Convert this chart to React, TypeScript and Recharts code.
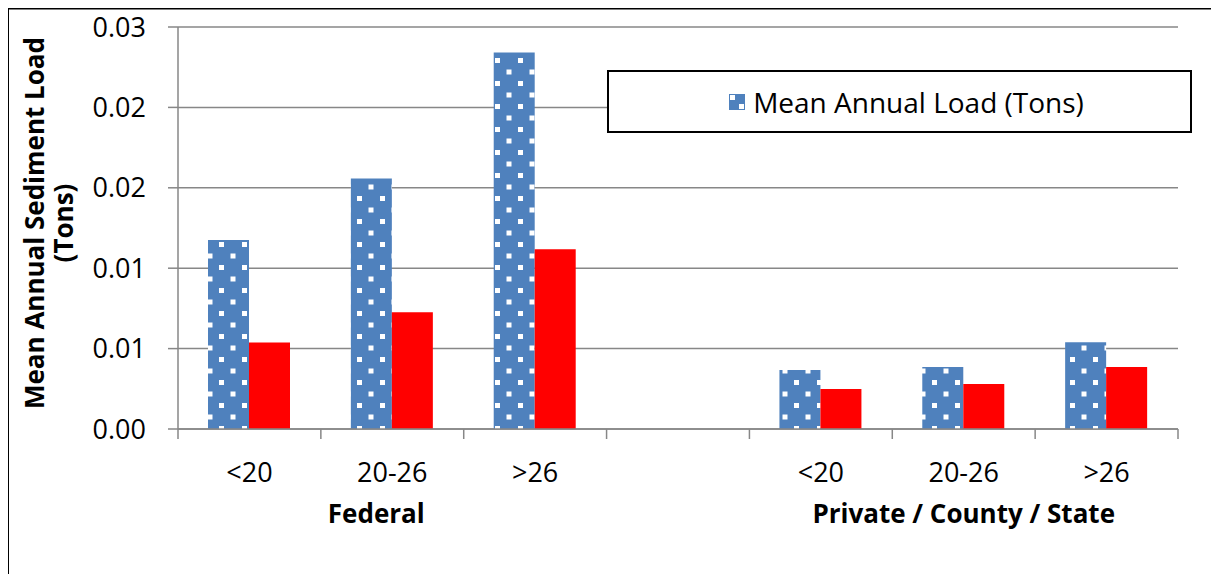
import { Bar, BarChart, CartesianGrid, Legend, XAxis, YAxis } from "recharts";

const bands = ["<20", "20-26", ">26", "", "<20", "20-26", ">26"];
const groupLabels = ["", "Federal", "", "", "", "Private / County / State", ""];
const meanLoad = [0.0141, 0.0187, 0.0281, null, 0.0044, 0.00462, 0.00648];
const secondLoad = [0.00646, 0.00872, 0.01342, null, 0.00298, 0.00335, 0.00462];
const yTicks = [0, 0.006, 0.012, 0.018, 0.024, 0.03];

const rows = bands.map((band, i) => ({
  band,
  group: groupLabels[i],
  mean: meanLoad[i],
  second: secondLoad[i],
}));

const GRID = "#878787";
const BLUE = "#4F81BD";

function LegendBox() {
  return (
    <div
      style={{
        width: 585,
        height: 63,
        boxSizing: "border-box",
        border: "2px solid #000",
        background: "#fff",
        display: "flex",
        alignItems: "center",
        justifyContent: "center",
        paddingLeft: 14,
        fontSize: 28,
        color: "#000",
      }}
    >
      <svg width={16} height={16} style={{ marginRight: 8 }}>
        <rect width={16} height={16} fill={BLUE} />
        <rect x={1} y={1} width={5} height={5} fill="#fff" />
        <rect x={10} y={10} width={5} height={5} fill="#fff" />
      </svg>
      <span>Mean Annual Load (Tons)</span>
    </div>
  );
}

function YTitle(props: any) {
  const vb = props.viewBox;
  const cy = vb.y + vb.height / 2 - 5;
  return (
    <g fontWeight="bold" fontSize={26} fill="#000">
      <text x={26} y={cy} textAnchor="middle" dominantBaseline="central" transform={`rotate(-90, 26, ${cy})`}>
        Mean Annual Sediment Load
      </text>
      <text x={55} y={cy} textAnchor="middle" dominantBaseline="central" transform={`rotate(-90, 55, ${cy})`}>
        (Tons)
      </text>
    </g>
  );
}

// category label + band-edge tick marks + group label under the middle band
function BandTick(props: any) {
  const { x, y, payload, index } = props;
  const half = payload.offset ?? 71.4;
  const group = rows[index]?.group;
  return (
    <g>
      <line x1={x - half} x2={x - half} y1={y} y2={y + 10} stroke={GRID} strokeWidth={1.5} />
      {index === bands.length - 1 && (
        <line x1={x + half} x2={x + half} y1={y} y2={y + 10} stroke={GRID} strokeWidth={1.5} />
      )}
      <text x={x} y={y + 53} textAnchor="middle" fontSize={27} fill="#000">
        {payload.value}
      </text>
      {group && (
        <text x={index === 1 ? x - 16 : x} y={y + 94} textAnchor="middle" fontSize={26} fontWeight="bold" fill="#000">
          {group}
        </text>
      )}
    </g>
  );
}

export default function App() {
  return (
    <div style={{ position: "relative", width: 1203, height: 566, fontFamily: "'Open Sans', sans-serif" }}>
      <BarChart
        width={1203}
        height={566}
        data={rows}
        margin={{ top: 19, right: 33, left: 0, bottom: 0 }}
        barCategoryGap="21%"
        barGap={0}
      >
        <defs>
          <pattern id="dots" patternUnits="userSpaceOnUse" width={23} height={23}>
            <rect width={23} height={23} fill={BLUE} />
            <rect x={4} y={4} width={5} height={5} fill="#fff" />
            <rect x={15.5} y={15.5} width={5} height={5} fill="#fff" />
          </pattern>
        </defs>
        <CartesianGrid vertical={false} stroke={GRID} strokeWidth={1.5} />
        <XAxis
          dataKey="band"
          height={145}
          stroke={GRID}
          strokeWidth={1.5}
          tickLine={false}
          tickSize={0}
          tickMargin={0}
          interval={0}
          tick={BandTick}
        />
        <YAxis
          width={170}
          domain={[0, 0.03]}
          ticks={yTicks}
          tickFormatter={(v: number) => v.toFixed(2)}
          tickSize={10}
          tickMargin={22}
          stroke={GRID}
          strokeWidth={1.5}
          tick={{ fill: "#000", fontSize: 27 }}
          label={{ content: YTitle }}
        />
        <Legend
          layout="vertical"
          align="center"
          verticalAlign="middle"
          content={LegendBox}
          wrapperStyle={{ left: 599, top: 62, width: 585, height: 63 }}
        />
        <Bar dataKey="mean" name="Mean Annual Load (Tons)" fill="url(#dots)" isAnimationActive={false} />
        <Bar dataKey="second" fill="#FF0000" legendType="none" isAnimationActive={false} />
        <line x1={-1} y1={0} x2={1203} y2={0} stroke="#000" strokeWidth={3} />
        <line x1={0} y1={-1} x2={0} y2={566} stroke="#000" strokeWidth={2} />
      </BarChart>
    </div>
  );
}
